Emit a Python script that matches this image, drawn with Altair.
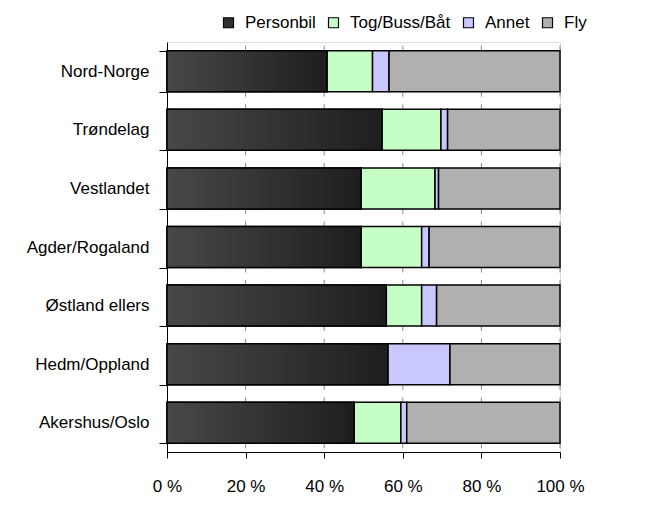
import altair as alt
import pandas as pd

regions = ["Nord-Norge", "Trøndelag", "Vestlandet", "Agder/Rogaland",
           "Østland ellers", "Hedm/Oppland", "Akershus/Oslo"]
modes = ["Personbil", "Tog/Buss/Båt", "Annet", "Fly"]
personbil = [40.7, 54.7, 49.4, 49.4, 55.8, 56.2, 47.6]
tog = [11.6, 15.0, 18.8, 15.4, 9.0, 0.0, 11.9]
annet = [4.2, 1.7, 0.9, 1.9, 3.8, 15.8, 1.5]
fly = [43.5, 28.6, 30.9, 33.3, 31.4, 28.0, 39.0]
colors = ["#303030", "#c6ffc6", "#c8c8ff", "#b0b0b0"]
tick_values = [0, 20, 40, 60, 80, 100]

rows = []
for i, r in enumerate(regions):
    for j, (m, vals) in enumerate(zip(modes, [personbil, tog, annet, fly])):
        rows.append({"region": r, "mode": m, "order": j, "value": vals[i]})
df = pd.DataFrame(rows)

grid_rows = [{"region": r, "v": v} for r in regions for v in tick_values[1:]]
grid_df = pd.DataFrame(grid_rows)

yenc = alt.Y("region:N", sort=regions,
             scale=alt.Scale(paddingInner=0.3, paddingOuter=0.15),
             axis=alt.Axis(title=None, tickBand="extent", tickSize=8,
                           labelFontSize=17, labelPadding=10,
                           domainColor="black", tickColor="black",
                           labelColor="black"))
xscale = alt.Scale(domain=[0, 100], nice=False)
xaxis = alt.Axis(title=None, values=tick_values, labelFlush=False,
                 labelExpr="datum.value + ' %'", tickSize=6, labelPadding=20,
                 labelFontSize=17, domainColor="black", tickColor="black",
                 labelColor="black", grid=False)

base = alt.Chart(df).transform_stack(
    stack="value", groupby=["region"], sort=[alt.SortField("order")],
    as_=["x0", "x1"])

bars = base.mark_bar(stroke="black", strokeWidth=1.5).encode(
    x=alt.X("x0:Q", scale=xscale, axis=xaxis),
    x2="x1:Q",
    y=yenc,
    color=alt.Color("mode:N", scale=alt.Scale(domain=modes, range=colors),
                    legend=alt.Legend(title=None, orient="none",
                                      direction="horizontal",
                                      legendX=53, legendY=-28,
                                      symbolType="square", symbolSize=100,
                                      symbolStrokeColor="black",
                                      symbolStrokeWidth=1.2,
                                      labelFontSize=17, labelOffset=8,
                                      columnPadding=9, labelColor="black")),
)

gradient = alt.LinearGradient(
    gradient="linear",
    stops=[alt.GradientStop(color="#484848", offset=0),
           alt.GradientStop(color="#1e1e1e", offset=1)],
    x1=0, x2=1, y1=0, y2=0)

pb = base.transform_filter(alt.datum.mode == "Personbil").mark_bar(
    fill=gradient, stroke="black", strokeWidth=1.5).encode(
    x=alt.X("x0:Q", scale=xscale, axis=xaxis), x2="x1:Q", y=yenc)

gt_top = alt.Chart(grid_df).mark_tick(color="#555555", size=5, thickness=1,
                                      yOffset=-23).encode(
    x=alt.X("v:Q", scale=xscale, axis=xaxis),
    y=alt.Y("region:N", sort=regions))
gt_bot = alt.Chart(grid_df).mark_tick(color="#555555", size=5, thickness=1,
                                      yOffset=23).encode(
    x=alt.X("v:Q", scale=xscale, axis=xaxis),
    y=alt.Y("region:N", sort=regions))

chart = alt.layer(gt_top, gt_bot, bars, pb).properties(
    width=393, height=410, autosize="none",
    padding={"left": 159, "top": 34, "right": 60, "bottom": 50},
).configure_view(stroke=None).configure(font="Liberation Sans")

chart.save("out.html", embed_options={"renderer": "svg", "actions": False})
